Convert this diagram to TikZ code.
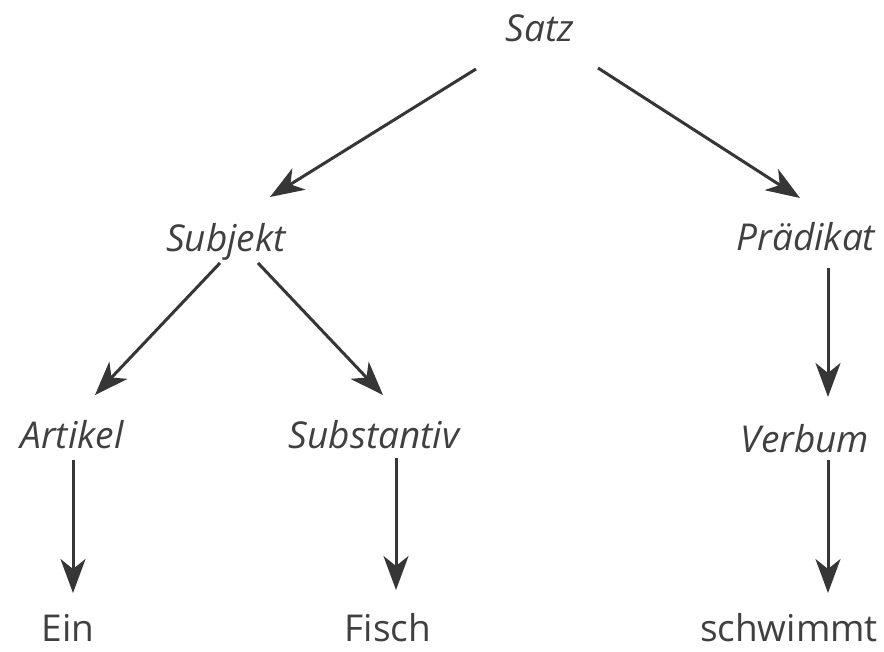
\documentclass[tikz,border=0pt]{standalone}
\usepackage{fontspec}
\setmainfont{Open Sans}
\usetikzlibrary{arrows.meta}
\definecolor{ink}{HTML}{363636}
\definecolor{txt}{HTML}{404040}
\begin{document}
\begin{tikzpicture}[x=1pt,y=-1pt,
  lbl/.style={anchor=base,inner sep=0pt,text=txt,font=\fontsize{37}{40}\selectfont\itshape},
  word/.style={anchor=base,inner sep=0pt,text=txt,font=\fontsize{37}{40}\selectfont},
  arr/.style={draw=ink,line width=3pt,-{Stealth[length=34pt,width=25pt,inset=10pt]}}]
\useasboundingbox[fill=white] (0,0) rectangle (884,651);
\node[lbl] (satz) at (540,41) {Satz};
\node[lbl] (subj) at (226,251) {Subjekt};
\node[lbl] (praed) at (806,250) {Prädikat};
\node[lbl] (artikel) at (72,448) {Artikel};
\node[lbl] (subst) at (374,448) {Substantiv};
\node[lbl] (verbum) at (805,452) {Verbum};
\node[word] (ein) at (68,641) {Ein};
\node[word] (fisch) at (388,641) {Fisch};
\node[word] (schw) at (789,641) {schwimmt};
\draw[arr] ([shift={(-64,28)}]satz.base) -- ([shift={(44,-54)}]subj.base);
\draw[arr] ([shift={(58,27)}]satz.base) -- ([shift={(-6,-52)}]praed.base);
\draw[arr] ([shift={(-6,12)}]subj.base) -- ([shift={(23,-53)}]artikel.base);
\draw[arr] ([shift={(32,12)}]subj.base) -- ([shift={(9,-53)}]subst.base);
\draw[arr] ([shift={(22,18)}]praed.base) -- ([shift={(23,-55)}]verbum.base);
\draw[arr] ([shift={(1,12)}]artikel.base) -- ([shift={(5,-48)}]ein.base);
\draw[arr] ([shift={(22,10)}]subst.base) -- ([shift={(8,-51)}]fisch.base);
\draw[arr] ([shift={(23,8)}]verbum.base) -- ([shift={(39,-48)}]schw.base);
\end{tikzpicture}
\end{document}
